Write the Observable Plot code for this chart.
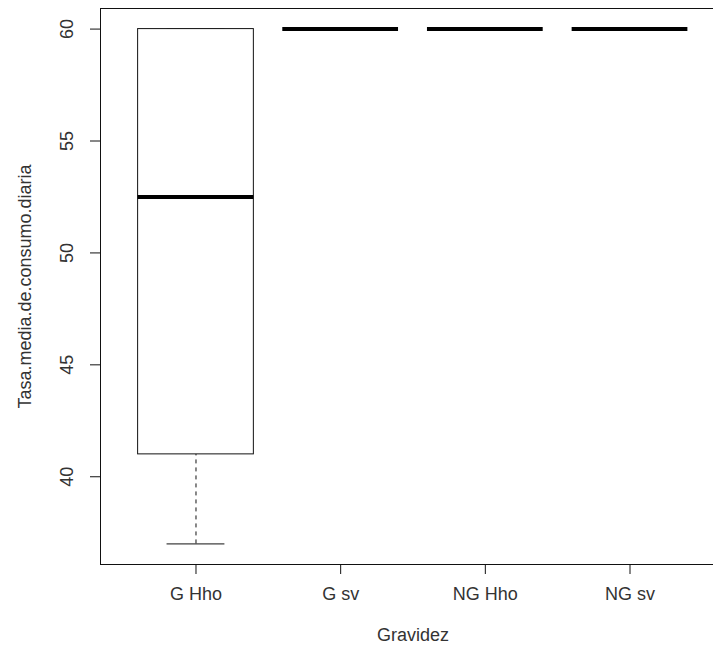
<!DOCTYPE html>
<html>
<head>
<meta charset="utf-8">
<script src="https://cdn.jsdelivr.net/npm/d3@7"></script>
<script src="https://cdn.jsdelivr.net/npm/@observablehq/plot@0.6"></script>
<style>
  html, body { margin: 0; padding: 0; background: #fff; overflow: hidden; }
  #chart { width: 713px; overflow: hidden; }
  #chart svg { display: block; overflow: hidden !important; }
</style>
</head>
<body>
<div id="chart"></div>
<script>
const categories = ["G Hho", "G sv", "NG Hho", "NG sv"];
const lowWhisker = [37, 60, 60, 60];
const q1 = [41, 60, 60, 60];
const medians = [52.5, 60, 60, 60];
const q3 = [60, 60, 60, 60];
const highWhisker = [60, 60, 60, 60];
const yTicks = [40, 45, 50, 55, 60];
const xTitle = "Gravidez";
const yTitle = "Tasa.media.de.consumo.diaria";

const boxes = categories.map((c, i) => ({
  cat: c, pos: i + 1,
  lo: lowWhisker[i], q1: q1[i], med: medians[i], q3: q3[i], hi: highWhisker[i]
}));

const half = 0.4;     // half box width (boxwex 0.8)
const staple = 0.2;   // half staple width

const yMin = d3.min(lowWhisker), yMax = d3.max(highWhisker);
const yPad = (yMax - yMin) * 0.04;
const xPad = (categories.length) * 0.04;
const xDomain = [0.5 - xPad, categories.length + 0.5 + xPad];
const yDomain = [yMin - yPad, yMax + yPad];

const chart = Plot.plot({
  width: 713,
  height: 656,
  marginLeft: 100,
  marginRight: 0,
  marginTop: 8,
  marginBottom: 92,
  style: { fontFamily: "'Liberation Sans', Arial, sans-serif", fontSize: "18px", color: "#222", background: "#fff", overflow: "hidden" },
  x: { type: "linear", domain: xDomain, range: [100, 725] },
  y: { domain: yDomain },
  marks: [
    Plot.ruleX(boxes.filter(d => d.lo < d.q1), { x: "pos", y1: "lo", y2: "q1", stroke: "#111", strokeDasharray: "4,4" }),
    Plot.ruleX(boxes.filter(d => d.hi > d.q3), { x: "pos", y1: "q3", y2: "hi", stroke: "#111", strokeDasharray: "4,4" }),
    Plot.ruleY(boxes, { y: "lo", x1: d => d.pos - staple, x2: d => d.pos + staple, stroke: "#111" }),
    Plot.ruleY(boxes, { y: "hi", x1: d => d.pos - staple, x2: d => d.pos + staple, stroke: "#111" }),
    Plot.rect(boxes, { x1: d => d.pos - half, x2: d => d.pos + half, y1: "q1", y2: "q3", fill: "white", stroke: "#111", strokeWidth: 1 }),
    Plot.ruleY(boxes, { y: "med", x1: d => d.pos - half, x2: d => d.pos + half, stroke: "#000", strokeWidth: 4 }),
    // plot box (left, top, bottom; the right side lies outside the picture)
    Plot.ruleX([xDomain[0]], { y1: yDomain[0], y2: yDomain[1], stroke: "#111" }),
    Plot.ruleY(yDomain, { x1: xDomain[0], x2: xDomain[1], stroke: "#111" }),
    Plot.axisX({ ticks: boxes.map(d => d.pos), tickFormat: d => categories[d - 1], tickSize: 10, tickPadding: 13, fill: "#333", stroke: "#111", label: null }),
    Plot.axisY({ ticks: yTicks, tickSize: 10, tickFormat: () => "", label: null, stroke: "#111" }),
    Plot.text(yTicks, { y: d => d, text: d => String(d), frameAnchor: "left", dx: -33, rotate: -90, textAnchor: "middle", fill: "#333" }),
    Plot.text([yTitle], { text: d => d, frameAnchor: "left", dx: -75, rotate: -90, textAnchor: "middle", fill: "#333" }),
    Plot.text([xTitle], { text: d => d, x: (xDomain[0] + xDomain[1]) / 2, frameAnchor: "bottom", dy: 76, textAnchor: "middle", fill: "#333" })
  ]
});
document.getElementById("chart").appendChild(chart);
</script>
</body>
</html>
